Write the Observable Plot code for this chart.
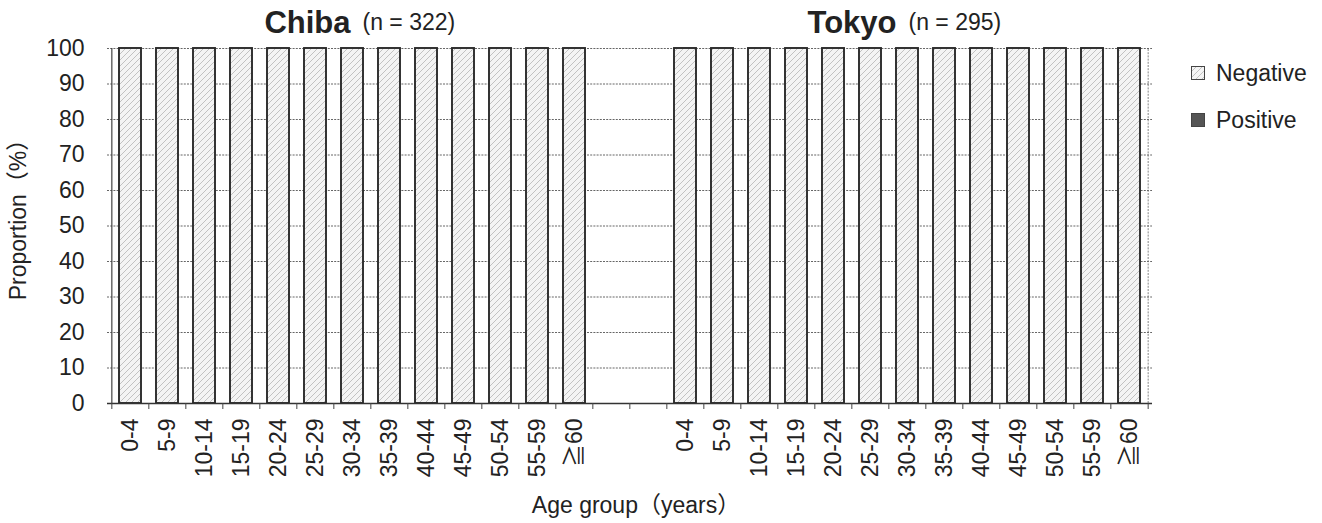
<!DOCTYPE html>
<html><head><meta charset="utf-8">
<script src="https://cdn.jsdelivr.net/npm/d3@7"></script>
<script src="https://cdn.jsdelivr.net/npm/@observablehq/plot@0.6"></script>
<style>
body{margin:0;background:#fff;}
#wrap{position:relative;width:1322px;height:523px;font-family:"Liberation Sans",Arial,"Noto Sans CJK JP",sans-serif;color:#222;}
.legend{position:absolute;left:1191px;height:26px;font-size:23px;line-height:26px;display:flex;align-items:center;white-space:nowrap;}
.legend svg{margin-right:11px;}
</style></head><body><div id="wrap"></div>
<script>
// ---- data ----
const ageGroups = ["0-4","5-9","10-14","15-19","20-24","25-29","30-34","35-39","40-44","45-49","50-54","55-59","≧60"];
const regions = ["Chiba","Tokyo"];
const sampleSizes = [322, 295];
const statuses = ["Negative","Positive"];
const chibaNegative = [100,100,100,100,100,100,100,100,100,100,100,100,100];
const chibaPositive = [0,0,0,0,0,0,0,0,0,0,0,0,0];
const tokyoNegative = [100,100,100,100,100,100,100,100,100,100,100,100,100];
const tokyoPositive = [0,0,0,0,0,0,0,0,0,0,0,0,0];
const yTicks = [0,10,20,30,40,50,60,70,80,90,100];
const xLabel = "Age group（years）";
const yLabel = "Proportion（%）";

// ---- table ----
const seriesByRegion = {
  Chiba: {Negative: chibaNegative, Positive: chibaPositive},
  Tokyo: {Negative: tokyoNegative, Positive: tokyoPositive}
};
const rows = [];
for (const r of regions) for (const s of statuses) ageGroups.forEach((a, i) => {
  rows.push({key: r + "|" + a, region: r, age: a, status: s, value: seriesByRegion[r][s][i]});
});
const domain = [...ageGroups.map(a => "Chiba|" + a), "gap|a", "gap|b", ...ageGroups.map(a => "Tokyo|" + a)];
const titles = regions.map((r, i) => ({key: r + "|" + ageGroups[6], name: r, n: "(n = " + sampleSizes[i] + ")"}));

// ---- layout ----
const W = 1322, H = 523, ML = 107, MR = 170, MT = 48, MB = 120;
const step = (W - ML - MR) / domain.length;
const ink = "#222";
const FS = 23;

const defs = () => {
  const el = document.createElementNS("http://www.w3.org/2000/svg", "defs");
  el.innerHTML = `<pattern id="hatch" patternUnits="userSpaceOnUse" width="6" height="6">
    <rect width="6" height="6" fill="#f4f4f4"/>
    <path d="M-1,1 l2,-2 M0,6 l6,-6 M5,7 l2,-2" stroke="#c2c2c2" stroke-width="1"/></pattern>`;
  return el;
};

const chart = Plot.plot({
  width: W, height: H,
  marginLeft: ML, marginRight: MR, marginTop: MT, marginBottom: MB,
  style: {fontFamily: '"Liberation Sans", Arial, "Noto Sans CJK JP", sans-serif', fontSize: FS + "px", color: ink, background: "#fff"},
  x: {domain, paddingInner: 0.41, paddingOuter: 0.205},
  y: {domain: [0, 100]},
  color: {domain: statuses, range: ["url(#hatch)", "#555"]},
  marks: [
    defs,
    Plot.ruleY(yTicks.filter(t => t > 0), {y: d => d, stroke: "#555", strokeWidth: 0.9, strokeDasharray: "2,1.2"}),
    Plot.ruleX([domain[domain.length - 1]], {x: d => d, dx: step / 2, y1: 0, y2: 100, stroke: "#777", strokeWidth: 0.9, strokeDasharray: "2,1.2"}),
    Plot.barY(rows, {x: "key", y: "value", fill: "status", order: statuses, stroke: "#2a2a2a", strokeWidth: 1.9}),
    Plot.ruleX([domain[0]], {x: d => d, dx: -step / 2, y1: 0, y2: 100, stroke: "#444", strokeWidth: 1.2}),
    Plot.ruleY([0], {stroke: "#333", strokeWidth: 1.6}),
    Plot.ruleX(domain, {x: d => d, dx: -step / 2, y1: 0, y2: 0, insetBottom: -6, stroke: "#444", strokeWidth: 1}),
    Plot.ruleX([domain[domain.length - 1]], {x: d => d, dx: step / 2, y1: 0, y2: 0, insetBottom: -6, stroke: "#444", strokeWidth: 1}),
    Plot.axisX({tickRotate: -90, tickSize: 0, tickPadding: 15, fontSize: FS, fill: ink, label: null,
      tickFormat: d => d.startsWith("gap") ? "" : d.split("|")[1]}),
    Plot.axisY({ticks: yTicks, tickSize: 0, tickPadding: 23, fontSize: FS, fill: ink, label: null}),
    Plot.text(titles.slice(0, 1), {x: "key", text: "name", frameAnchor: "top", lineAnchor: "middle", dy: -25, dx: -2, textAnchor: "end", fontWeight: "bold", fontSize: 31, fill: ink}),
    Plot.text(titles.slice(0, 1), {x: "key", text: "n", frameAnchor: "top", lineAnchor: "middle", dy: -26, dx: 10, textAnchor: "start", fontSize: FS, fill: ink}),
    Plot.text(titles.slice(1, 2), {x: "key", text: "name", frameAnchor: "top", lineAnchor: "middle", dy: -25, dx: -11, textAnchor: "end", fontWeight: "bold", fontSize: 31, fill: ink}),
    Plot.text(titles.slice(1, 2), {x: "key", text: "n", frameAnchor: "top", lineAnchor: "middle", dy: -26, dx: 1, textAnchor: "start", fontSize: FS, fill: ink}),
    Plot.text([yLabel], {frameAnchor: "left", textAnchor: "middle", lineAnchor: "middle", rotate: -90, dx: -89, dy: -12, fontSize: FS, fill: ink}),
    Plot.text([xLabel], {frameAnchor: "bottom", textAnchor: "middle", lineAnchor: "middle", dx: 6, dy: 102, fontSize: FS, fill: ink})
  ]
});
const wrap = document.getElementById("wrap");
wrap.appendChild(chart);

// legend
const legendTops = [60, 107];
statuses.forEach((s, i) => {
  const div = document.createElement("div");
  div.className = "legend";
  div.style.top = legendTops[i] + "px";
  const fill = s === "Negative" ? "url(#hatch)" : "#555";
  div.innerHTML = `<svg width="14" height="14"><rect x="0.5" y="0.5" width="13" height="13" fill="${fill}" stroke="#444" stroke-width="1"/></svg><span>${s}</span>`;
  wrap.appendChild(div);
});
</script></body></html>
